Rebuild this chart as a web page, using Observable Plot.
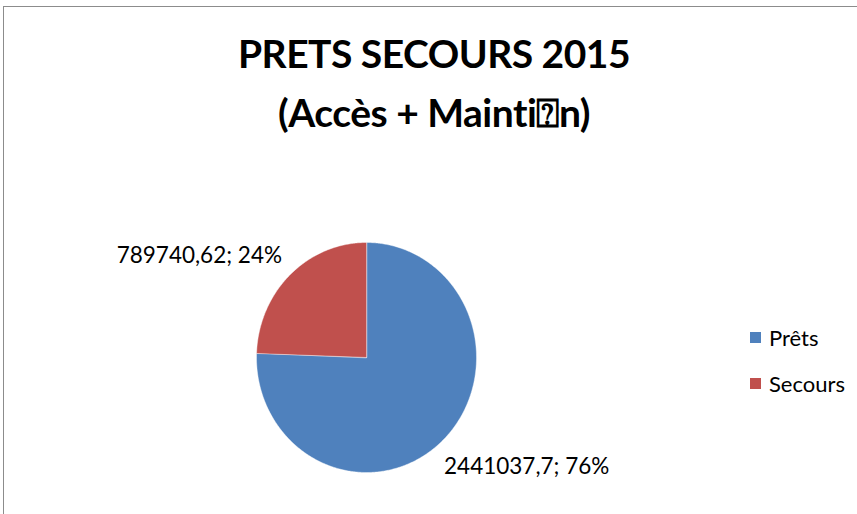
<!DOCTYPE html>
<html>
<head>
<meta charset="utf-8">
<script src="https://cdn.jsdelivr.net/npm/d3@7"></script>
<script src="https://cdn.jsdelivr.net/npm/@observablehq/plot@0.6"></script>
<style>
  html, body { margin: 0; padding: 0; background: #fff; }
  body { width: 857px; height: 514px; overflow: hidden; position: relative; font-family: Lato, "Noto Sans", sans-serif; }
  #frame { position: absolute; left: 3px; top: 6px; width: 900px; height: 600px; border-top: 1.5px solid #8c8c8c; border-left: 1.5px solid #8c8c8c; box-sizing: border-box; }
  #title { position: absolute; left: 0; top: 24px; width: 868px; text-align: center; font-weight: 700; font-size: 39px; letter-spacing: -0.5px; line-height: 59px; color: #000; }
  #chart { position: absolute; left: 0; top: 150px; }
  #legend { position: absolute; left: 750px; top: 324px; font-size: 22px; color: #000; }
  #legend .row { display: flex; align-items: center; height: 26px; margin-bottom: 20px; }
  #legend .sw { width: 11px; height: 11px; margin-right: 8px; }
</style>
</head>
<body>
<div id="frame"></div>
<div id="title">PRETS SECOURS 2015<br>(Accès + Mainti⍰n)</div>
<div id="chart"></div>
<div id="legend"></div>
<script>
const categories = ["Prêts", "Secours"];
const values = [2441037.7, 789740.62];
const labels = ["2441037,7; 76%", "789740,62; 24%"];
const colors = ["#4F81BD", "#C0504D"];

const total = d3.sum(values);
const slices = [];
const labelRows = [];
let acc = 0;
values.forEach((v, i) => {
  const a0 = acc / total * 2 * Math.PI;
  acc += v;
  const a1 = acc / total * 2 * Math.PI;
  const n = Math.max(2, Math.ceil((a1 - a0) / 0.01));
  slices.push({cat: categories[i], x: 0, y: 0});
  for (let k = 0; k <= n; k++) {
    const a = a0 + (a1 - a0) * k / n;
    slices.push({cat: categories[i], x: Math.sin(a), y: Math.cos(a)});
  }
  const am = (a0 + a1) / 2;
  labelRows.push({
    text: labels[i],
    x: Math.sin(am) * 1.08,
    y: Math.cos(am) * 1.08,
    anchor: Math.sin(am) >= 0 ? "start" : "end"
  });
});

const plot = Plot.plot({
  width: 857,
  height: 364,
  margin: 0,
  x: {domain: [-1, 1], range: [256, 476], axis: null},
  y: {domain: [-1, 1], range: [322, 92], axis: null},
  color: {domain: categories, range: colors},
  style: {fontFamily: "Lato, 'Noto Sans', sans-serif", background: "transparent"},
  marks: [
    Plot.line(slices, {x: "x", y: "y", z: "cat", fill: "cat", stroke: "#ffffff", strokeWidth: 0.6, strokeOpacity: 0.7, curve: "linear-closed"}),
    Plot.text(labelRows.filter(d => d.anchor === "start"), {x: "x", y: "y", text: "text", textAnchor: "start", dy: 20, dx: -5, fontSize: 22.5, fill: "#000"}),
    Plot.text(labelRows.filter(d => d.anchor === "end"), {x: "x", y: "y", text: "text", textAnchor: "end", dy: -12, dx: -2, fontSize: 22.5, fill: "#000"})
  ]
});
document.getElementById("chart").appendChild(plot);

const legend = document.getElementById("legend");
categories.forEach((c, i) => {
  const row = document.createElement("div");
  row.className = "row";
  const sw = document.createElement("div");
  sw.className = "sw";
  sw.style.background = colors[i];
  const t = document.createElement("span");
  t.textContent = c;
  row.appendChild(sw);
  row.appendChild(t);
  legend.appendChild(row);
});
</script>
</body>
</html>
